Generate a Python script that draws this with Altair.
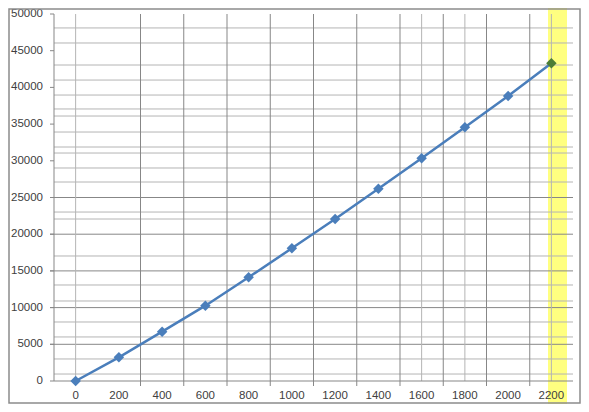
import altair as alt
import pandas as pd

# Data
x_values = [0, 200, 400, 600, 800, 1000, 1200, 1400, 1600, 1800, 2000, 2200]
y_values = [0, 3230, 6720, 10260, 14130, 18080, 22070, 26200, 30340, 34560, 38830, 43280]

y_ticks = [0, 5000, 10000, 15000, 20000, 25000, 30000, 35000, 40000, 45000, 50000]
major_h_grid = [5000, 10000, 15000, 20000, 25000]
minor_h_grid = [48100, 46050, 43050, 41000, 38960, 37060, 36100, 33920, 31880, 31060,
                29020, 27110, 23020, 22070, 17030, 13080, 10900, 8040, 6000, 3000, 950]
dark_v_grid = [300, 500, 700, 900, 1100, 1300, 1500, 1700, 1900, 2100]
light_v_grid = [0, 1600, 1800, 2200]
highlight_x = [2200]

W, H = 519, 367
AX = "#878787"
LBL = "#404040"
FONT = "Liberation Sans"
xs = alt.Scale(domain=[-100, 2300], nice=False, zero=False)
ys = alt.Scale(domain=[0, 50000], nice=False)

df = pd.DataFrame({"x": x_values, "y": y_values})
df_last = df[df["x"].isin(highlight_x)]
df_rest = df[~df["x"].isin(highlight_x)]
one = pd.DataFrame({"a": [0]})

yellow = alt.Chart(one).mark_rect(color="#ffff80").encode(
    x=alt.value(494), x2=alt.value(513), y=alt.value(-6), y2=alt.value(390)
)

minor_h = alt.Chart(pd.DataFrame({"v": minor_h_grid})).mark_rule(color="#b4b4b4", strokeWidth=1).encode(
    y=alt.Y("v:Q", scale=ys, axis=None), x=alt.value(0), x2=alt.value(W)
)
major_h = alt.Chart(pd.DataFrame({"v": major_h_grid})).mark_rule(color=AX, strokeWidth=1).encode(
    y=alt.Y("v:Q", scale=ys, axis=None), x=alt.value(-4), x2=alt.value(W)
)
light_v = alt.Chart(pd.DataFrame({"v": light_v_grid})).mark_rule(color="#b4b4b4", strokeWidth=1).encode(
    x=alt.X("v:Q", scale=xs, axis=None), y=alt.value(0), y2=alt.value(H)
)
dark_v = alt.Chart(pd.DataFrame({"v": dark_v_grid})).mark_rule(color=AX, strokeWidth=1).encode(
    x=alt.X("v:Q", scale=xs, axis=None), y=alt.value(0), y2=alt.value(H + 5)
)

# axis lines and y ticks
y_domain = alt.Chart(one).mark_rule(color=AX, strokeWidth=1).encode(
    x=alt.value(0), y=alt.value(0), y2=alt.value(H)
)
x_domain = alt.Chart(one).mark_rule(color=AX, strokeWidth=1).encode(
    x=alt.value(0), x2=alt.value(W), y=alt.value(H)
)
y_tick_marks = alt.Chart(pd.DataFrame({"v": y_ticks})).mark_rule(color=AX, strokeWidth=1).encode(
    y=alt.Y("v:Q", scale=ys, axis=None), x=alt.value(-4), x2=alt.value(0)
)

# axis labels
y_labels = alt.Chart(pd.DataFrame({"v": y_ticks})).mark_text(
    align="right", baseline="middle", font=FONT, fontSize=11.5, color=LBL
).encode(
    y=alt.Y("v:Q", scale=ys, axis=None), x=alt.value(-11), text=alt.Text("v:Q", format="d")
)
x_labels = alt.Chart(pd.DataFrame({"v": x_values})).mark_text(
    align="center", baseline="top", font=FONT, fontSize=11.5, color=LBL
).encode(
    x=alt.X("v:Q", scale=xs, axis=None), y=alt.value(H + 9), text=alt.Text("v:Q", format="d")
)

border = alt.Chart(one).mark_rect(
    fillOpacity=0, stroke="#8c8c8c", strokeWidth=1.5
).encode(x=alt.value(-45), x2=alt.value(526), y=alt.value(-5), y2=alt.value(389))

line = alt.Chart(df).mark_line(color="#4a7ebb", strokeWidth=2.5).encode(
    x=alt.X("x:Q", scale=xs, axis=None),
    y=alt.Y("y:Q", scale=ys, axis=None),
)
points = alt.Chart(df_rest).mark_point(shape="diamond", filled=True, size=110, color="#4a7ebb", opacity=1).encode(
    x=alt.X("x:Q", scale=xs, axis=None), y=alt.Y("y:Q", scale=ys, axis=None)
)
last_point = alt.Chart(df_last).mark_point(shape="diamond", filled=True, size=110, color="#4b7d36", opacity=1).encode(
    x=alt.X("x:Q", scale=xs, axis=None), y=alt.Y("y:Q", scale=ys, axis=None)
)

chart = alt.layer(
    yellow, minor_h, major_h, light_v, dark_v, y_domain, x_domain, y_tick_marks,
    line, points, last_point, y_labels, x_labels, border
).properties(
    width=W, height=H,
    background="white",
    autosize=alt.AutoSizeParams(type="none"),
    padding={"left": 46, "top": 6, "right": 8, "bottom": 23},
).configure_view(stroke=None)

chart.save("out.html", embed_options={"renderer": "svg", "actions": False})
